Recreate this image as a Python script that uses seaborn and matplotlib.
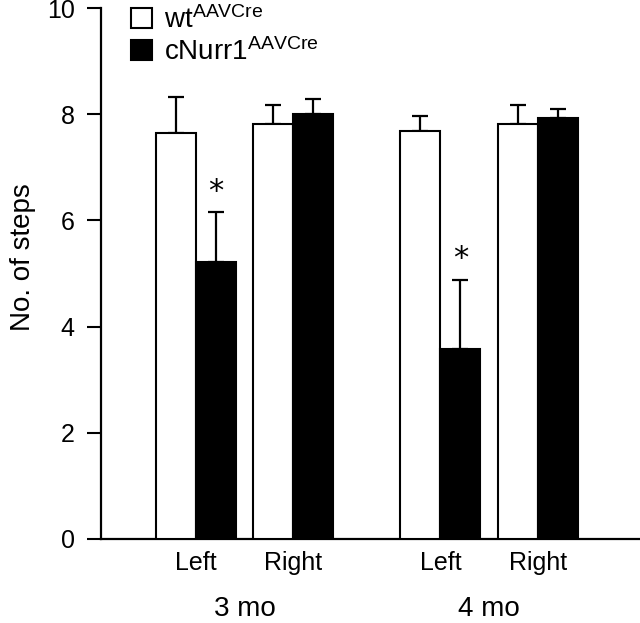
import numpy as np
import pandas as pd
import seaborn as sns
import matplotlib.pyplot as plt
from matplotlib.patches import Patch
from matplotlib.transforms import blended_transform_factory

# values
sides = ['Left', 'Right', 'Left', 'Right']
months = ['3 mo', '3 mo', '4 mo', '4 mo']
positions = [0.0, 1.0, 2.52, 3.53]
wt_mean = [7.64, 7.82, 7.68, 7.82]
wt_err = [0.69, 0.35, 0.29, 0.35]
ko_mean = [5.22, 8.00, 3.58, 7.93]
ko_err = [0.93, 0.28, 1.30, 0.17]
signif = [True, False, True, False]
genotypes = ['wt$^{AAVCre}$', 'cNurr1$^{AAVCre}$']

sns.set_style('ticks', {'axes.edgecolor': 'black', 'text.color': 'black',
                        'axes.labelcolor': 'black', 'xtick.color': 'black',
                        'ytick.color': 'black'})
plt.rcParams['font.family'] = ['Liberation Sans', 'DejaVu Sans']
plt.rcParams['mathtext.fontset'] = 'custom'
plt.rcParams['mathtext.rm'] = 'Liberation Sans'
plt.rcParams['mathtext.it'] = 'Liberation Sans'
plt.rcParams['mathtext.default'] = 'regular'

df = pd.DataFrame({
    'pos': positions * 2,
    'steps': wt_mean + ko_mean,
    'err': wt_err + ko_err,
    'genotype': [genotypes[0]] * 4 + [genotypes[1]] * 4,
})

fig = plt.figure(figsize=(6.4, 6.23), dpi=100)
ax = fig.add_axes([0.158, 0.135, 0.842, 0.852])

width = 0.825
sns.barplot(data=df, x='pos', y='steps', hue='genotype', native_scale=True,
            width=width, palette=['white', 'black'], edgecolor='black',
            linewidth=1.5, errorbar=None, legend=False, ax=ax, zorder=3)

off = width / 4
xs = np.array(positions)
for sign, m, e in [(-1, wt_mean, wt_err), (1, ko_mean, ko_err)]:
    ax.errorbar(xs + sign * off, m, yerr=[np.zeros(4), e], fmt='none',
                ecolor='black', elinewidth=1.6, capsize=6, capthick=1.6, zorder=2)

for x, m, e, s in zip(xs, ko_mean, ko_err, signif):
    if s:
        ax.text(x + off, m + e + 0.12, '*', ha='center', va='bottom',
                fontsize=22, family='DejaVu Sans', color='black', zorder=4)

ax.set_ylim(0, 10)
ax.set_xlim(-0.98, 4.58)
ax.set_yticks([0, 2, 4, 6, 8, 10])
ax.tick_params(axis='y', length=10, width=1.5, labelsize=18, pad=9, colors='black')
ax.set_xticks(positions)
ax.set_xticklabels(sides)
ax.tick_params(axis='x', length=0, labelsize=18, pad=9, colors='black')
ax.set_xlabel('')
ax.set_ylabel('No. of steps', fontsize=20, color='black')
ax.yaxis.set_label_coords(-0.12, 0.53)
sns.despine(ax=ax)
for sp in ['left', 'bottom']:
    ax.spines[sp].set_linewidth(1.6)
    ax.spines[sp].set_color('black')

trans = blended_transform_factory(ax.transData, ax.transAxes)
for mo in ['3 mo', '4 mo']:
    idx = [i for i, m in enumerate(months) if m == mo]
    cx = np.mean([positions[i] for i in idx])
    ax.text(cx, -0.133, mo, transform=trans, ha='center', va='center',
            fontsize=20, color='black')

handles = [Patch(facecolor='white', edgecolor='black', linewidth=1.5),
           Patch(facecolor='black', edgecolor='black', linewidth=1.5)]
leg = ax.legend(handles, genotypes, loc='upper left', bbox_to_anchor=(0.055, 1.004),
                frameon=False, fontsize=20, handlelength=0.75, handleheight=0.75,
                handletextpad=0.45, borderpad=0, borderaxespad=0, labelspacing=0.15)
for t in leg.get_texts():
    t.set_color('black')

fig.savefig('out.png', dpi=100)
